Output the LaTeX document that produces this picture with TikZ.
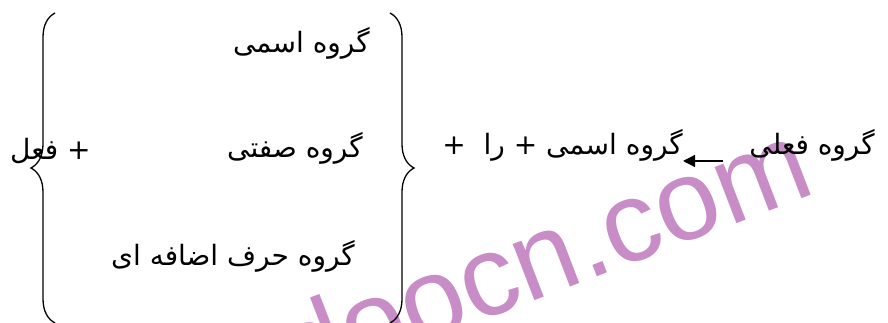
\documentclass[tikz,border=0pt]{standalone}
\usepackage{fontspec}
\usepackage{xcolor}
\usepackage{tikz}
\usetikzlibrary{positioning,calc,decorations.pathreplacing,arrows.meta}
\TeXXeTstate=1
\newfontfamily\farsifont[Script=Arabic]{DejaVu Sans}
\newfontfamily\markfont{Liberation Sans}
\definecolor{markpink}{RGB}{200,140,198}
\newcommand{\fa}[1]{\beginR #1\endR}

\begin{document}
\begin{tikzpicture}[x=1pt,y=-1pt,every node/.style={font=\farsifont\fontsize{28}{32}\selectfont, inner sep=0pt}]
  \tikzstyle{item}=[anchor=base east]
  \tikzstyle{curly}=[decorate, decoration={brace, amplitude=24pt}, line width=1.3pt]
  \useasboundingbox (0,0) rectangle (888,323);
  % watermark behind everything
  \node[font=\markfont\fontsize{114}{120}\selectfont, text=markpink, rotate=21, anchor=base east] (mark) at (818,192) {doocn.com};
  % the three choices between the braces
  \node[item] (noun) at (370,53) {\fa{گروه اسمی}};
  \node[item] (adj) at (363,158) {\fa{گروه صفتی}};
  \node[item] (prep) at (355,265) {\fa{گروه حرف اضافه ای}};
  \node[anchor=base west] (verb) at (10,160) {\fa{+ فعل}};
  \draw[curly] (55,323) -- (55,13);
  \draw[curly] (390,13) -- (390,323);
  % rule on the right
  \node[item] (vp) at (875,155) {\fa{گروه فعلی}};
  \node[item] (np) at (683,155) {\fa{گروه اسمی + را ~+}};
  \draw[line width=1.3pt, -{Triangle[length=12pt,width=12pt]}] ([xshift=-26pt,yshift=-6pt]vp.base west) -- ([yshift=-6pt]np.base east);
\end{tikzpicture}
\end{document}
